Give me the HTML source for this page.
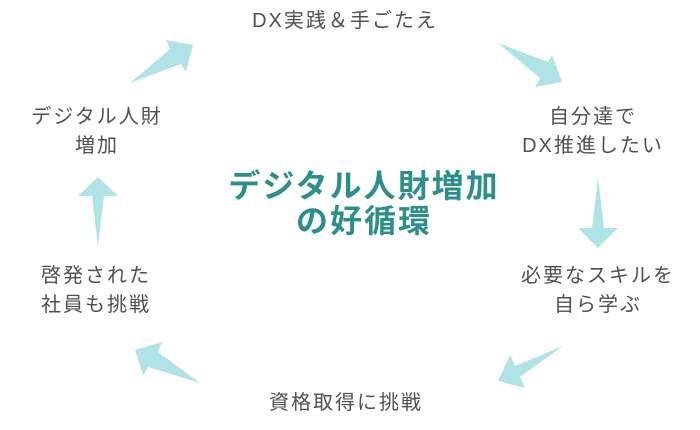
<!DOCTYPE html>
<html><head><meta charset="utf-8"><style>
body{margin:0;width:700px;height:430px;background:#fff;overflow:hidden;position:relative;font-family:"Liberation Sans","Noto Sans CJK JP",sans-serif;color:#505050}
.t{position:absolute;font-size:20px;line-height:29px;text-align:center;white-space:nowrap;transform:translateX(-50%);letter-spacing:2px}
.c{position:absolute;left:364px;top:169px;transform:translateX(-50%);font-size:32px;line-height:35px;font-weight:bold;color:#2a9089;text-align:center;white-space:nowrap;letter-spacing:2px}
svg{position:absolute;left:0;top:0}
</style></head><body>
<svg width="700" height="430"><g fill="#b0e3e5">
<polygon points="130,83 170,49 166,40 193,45 186,72 181,64"/>
<polygon points="498,43 548,62 552,55 562,82 535,87 540,78"/>
<polygon points="598,177 604,228 618,228 598,248 578,228 592,228"/>
<polygon points="563,346 520,377 525,388 498,381 510,355 515,366"/>
<polygon points="200,383 158,352 162,342 135,350 143,375 148,367"/>
<polygon points="98,247 92,196 78,196 98,177 118,196 104,196"/>
</g></svg>
<div class="t" style="left:345px;top:7px">DX実践＆手ごたえ</div>
<div class="t" style="left:593px;top:103px">自分達で<br>DX推進したい</div>
<div class="t" style="left:598px;top:262px">必要なスキルを<br>自ら学ぶ</div>
<div class="t" style="left:346px;top:389px">資格取得に挑戦</div>
<div class="t" style="left:96px;top:262px">啓発された<br>社員も挑戦</div>
<div class="t" style="left:97px;top:103px">デジタル人財<br>増加</div>
<div class="c">デジタル人財増加<br>の好循環</div>
</body></html>
